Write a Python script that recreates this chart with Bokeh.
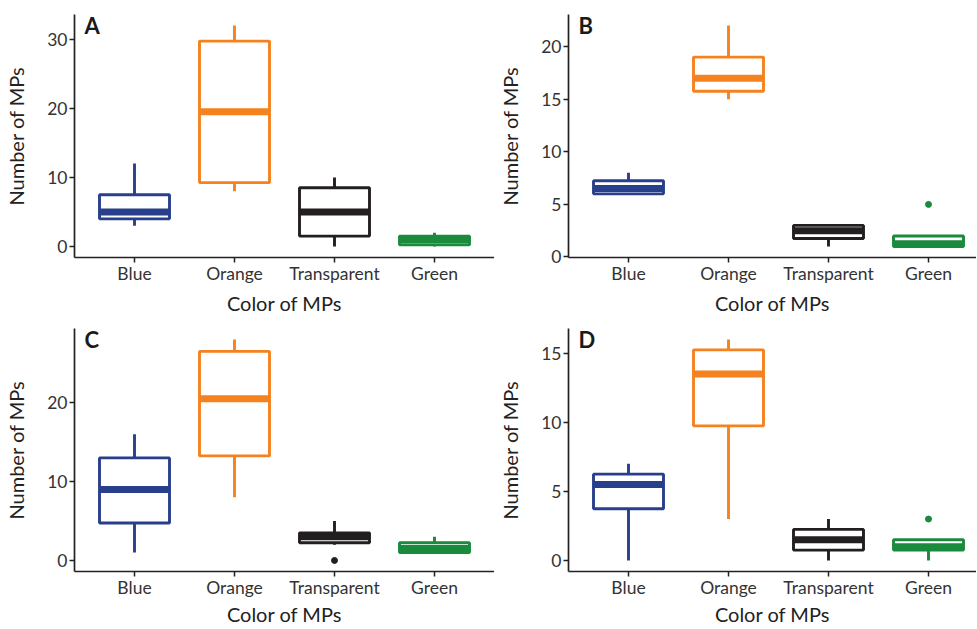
import numpy as np
from bokeh.plotting import figure
from bokeh.models import Range1d, FixedTicker, Label
from bokeh.layouts import gridplot
from bokeh.embed import file_html
from bokeh.resources import INLINE

# ---------------- data ----------------
colors_of_mps = ["Blue", "Orange", "Transparent", "Green"]
box_colors = ["#283f8c", "#f5821f", "#231f20", "#1a8a3d"]

# Panel A  (min, Q1, median, Q3, max per colour)
a_min = [3, 8, 0, 0]
a_q1 = [4, 9.25, 1.5, 0.25]
a_med = [5, 19.5, 5, 1]
a_q3 = [7.5, 29.75, 8.5, 1.5]
a_max = [12, 32, 10, 2]
a_out_cat = []
a_out_val = []
a_ticks = [0, 10, 20, 30]

# Panel B
b_min = [6, 15, 1, 1]
b_q1 = [6, 15.75, 1.75, 1]
b_med = [6.5, 17, 2.5, 1.25]
b_q3 = [7.25, 19, 3, 2]
b_max = [8, 22, 3, 2]
b_out_cat = ["Green"]
b_out_val = [5]
b_ticks = [0, 5, 10, 15, 20]

# Panel C
c_min = [1, 8, 2, 1]
c_q1 = [4.75, 13.25, 2.25, 1]
c_med = [9, 20.5, 3, 1.5]
c_q3 = [13, 26.5, 3.5, 2.25]
c_max = [16, 28, 5, 3]
c_out_cat = ["Transparent"]
c_out_val = [0]
c_ticks = [0, 10, 20]

# Panel D
d_min = [0, 3, 0, 0]
d_q1 = [3.75, 9.75, 0.75, 0.75]
d_med = [5.5, 13.5, 1.5, 1]
d_q3 = [6.25, 15.25, 2.25, 1.5]
d_max = [7, 16, 3, 1.5]
d_out_cat = ["Green"]
d_out_val = [3]
d_ticks = [0, 5, 10, 15]

x_title = "Color of MPs"
y_title = "Number of MPs"

# ---------------- style ----------------
FONT = "Lato"
BOX_W = 0.7
LW = 2.9
MED_LW = 7
AXIS_COL = "#222222"
TICK_LABEL_COL = "#333333"
TITLE_COL = "#222222"


def make_panel(letter, mins, q1s, meds, q3s, maxs, out_cat, out_val, yticks,
               width, height, x_end, bl, br, bt, bb, x_title_standoff):
    xpos = np.arange(1, len(colors_of_mps) + 1)
    allv = list(mins) + list(maxs) + list(out_val)
    lo, hi = min(allv), max(allv)
    pad = 0.05 * (hi - lo)

    p = figure(width=width, height=height, output_backend="svg",
               toolbar_location=None,
               x_range=Range1d(0.4, x_end), y_range=Range1d(lo - pad, hi + pad),
               min_border_left=bl, min_border_right=br,
               min_border_top=bt, min_border_bottom=bb)
    p.outline_line_color = None
    p.xgrid.visible = False
    p.ygrid.visible = False
    p.background_fill_color = "white"
    p.border_fill_color = "white"

    # whiskers
    p.segment(x0=xpos, y0=q3s, x1=xpos, y1=maxs, line_color=box_colors,
              line_width=LW)
    p.segment(x0=xpos, y0=q1s, x1=xpos, y1=mins, line_color=box_colors,
              line_width=LW)
    # boxes
    p.vbar(x=xpos, width=BOX_W, bottom=q1s, top=q3s, fill_color="white",
           line_color=box_colors, line_width=LW)
    # medians
    p.segment(x0=xpos - BOX_W / 2, y0=meds, x1=xpos + BOX_W / 2, y1=meds,
              line_color=box_colors, line_width=MED_LW, line_cap="butt")
    # outliers
    if out_cat:
        ox = [colors_of_mps.index(c) + 1 for c in out_cat]
        oc = [box_colors[colors_of_mps.index(c)] for c in out_cat]
        p.scatter(x=ox, y=out_val, size=6, fill_color=oc, line_color=oc)

    # axes
    p.xaxis.ticker = FixedTicker(ticks=list(xpos))
    p.xaxis.major_label_overrides = {int(i): c for i, c in zip(xpos, colors_of_mps)}
    p.yaxis.ticker = FixedTicker(ticks=yticks)
    for ax in (p.xaxis, p.yaxis):
        ax.axis_line_color = AXIS_COL
        ax.axis_line_width = 1.7
        ax.major_tick_line_color = AXIS_COL
        ax.major_tick_line_width = 1.5
        ax.major_tick_in = 0
        ax.major_tick_out = 5
        ax.minor_tick_in = 0
        ax.minor_tick_out = 0
        ax.major_label_text_font = FONT
        ax.major_label_text_font_size = "17.5px"
        ax.major_label_text_color = TICK_LABEL_COL
        ax.axis_label_text_font = FONT
        ax.axis_label_text_font_size = "20px"
        ax.axis_label_text_font_style = "normal"
        ax.axis_label_text_color = TITLE_COL
    p.xaxis.axis_label = x_title
    p.yaxis.axis_label = y_title
    p.xaxis.major_label_standoff = 0
    p.xaxis.axis_label_standoff = x_title_standoff
    p.yaxis.major_label_standoff = 2
    p.yaxis.axis_label_standoff = 16

    lab = Label(x=0.50, y=hi + pad, text=letter, text_font=FONT,
                text_font_style="bold", text_font_size="22px",
                text_color="#1a1a1a", text_baseline="top", text_align="left",
                y_offset=3)
    p.add_layout(lab)
    return p


# left column frames start at x=74, right column at x=568
pA = make_panel("A", a_min, a_q1, a_med, a_q3, a_max, a_out_cat, a_out_val, a_ticks,
                494, 318, 4.6, 74, 0, 14, 61, 4)
pB = make_panel("B", b_min, b_q1, b_med, b_q3, b_max, b_out_cat, b_out_val, b_ticks,
                482, 318, 4.48, 74, 0, 14, 61, 4)
pC = make_panel("C", c_min, c_q1, c_med, c_q3, c_max, c_out_cat, c_out_val, c_ticks,
                494, 311, 4.6, 74, 0, 10, 58, 1)
pD = make_panel("D", d_min, d_q1, d_med, d_q3, d_max, d_out_cat, d_out_val, d_ticks,
                482, 311, 4.48, 74, 0, 10, 58, 1)

grid = gridplot([[pA, pB], [pC, pD]], toolbar_location=None)

open("out.html", "w").write(file_html(grid, INLINE))
